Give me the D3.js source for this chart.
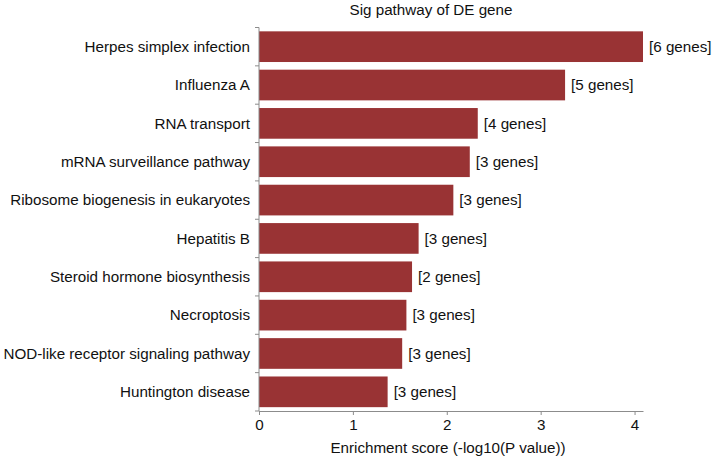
<!DOCTYPE html>
<html>
<head>
<meta charset="utf-8">
<script src="https://cdn.jsdelivr.net/npm/d3@7"></script>
<style>
  html, body { margin: 0; padding: 0; background: #fff; }
  text { font-family: "Liberation Sans", Arial, sans-serif; }
</style>
</head>
<body>
<svg id="chart" width="714" height="458"></svg>
<script>
const pathways = [
  "Herpes simplex infection",
  "Influenza A",
  "RNA transport",
  "mRNA surveillance pathway",
  "Ribosome biogenesis in eukaryotes",
  "Hepatitis B",
  "Steroid hormone biosynthesis",
  "Necroptosis",
  "NOD-like receptor signaling pathway",
  "Huntington disease"
];
const scores = [4.09, 3.26, 2.33, 2.245, 2.07, 1.70, 1.63, 1.57, 1.525, 1.37];
const geneCounts = [6, 5, 4, 3, 3, 3, 2, 3, 3, 3];
const xTicks = [0, 1, 2, 3, 4];
const titleText = "Sig pathway of DE gene";
const xAxisTitle = "Enrichment score (-log10(P value))";

const svg = d3.select("#chart");
const plotLeft = 259, plotRight = 643, plotTop = 27.5, plotBottom = 411;
const fs = 15.2;

const x = d3.scaleLinear().domain([0, d3.max(scores)]).range([plotLeft, plotRight]);
const y = d3.scaleBand().domain(pathways).range([plotTop, plotBottom]).paddingInner(0.2).paddingOuter(0.1);

const axisColor = "#8c8c8c";
const textColor = "#111111";
const barColor = "#993334";

// bars
svg.append("g").selectAll("rect")
  .data(pathways)
  .join("rect")
  .attr("x", x(0))
  .attr("y", d => y(d))
  .attr("width", (d, i) => x(scores[i]) - x(0))
  .attr("height", y.bandwidth())
  .attr("fill", barColor);

// gene count labels
svg.append("g").selectAll("text")
  .data(pathways)
  .join("text")
  .attr("x", (d, i) => x(scores[i]) + 6)
  .attr("y", d => y(d) + y.bandwidth() / 2)
  .attr("dy", "0.35em")
  .attr("font-size", fs)
  .attr("fill", textColor)
  .text((d, i) => `[${geneCounts[i]} genes]`);

// x axis
const xAxis = svg.append("g")
  .attr("transform", `translate(0,${plotBottom})`)
  .call(d3.axisBottom(x).tickValues(xTicks).tickFormat(d3.format("d")).tickSize(4).tickSizeOuter(0).tickPadding(4));
xAxis.select(".domain").attr("stroke", axisColor);
xAxis.selectAll(".tick line").attr("stroke", axisColor);
xAxis.selectAll(".tick text").attr("font-size", fs).attr("fill", textColor)
  .attr("font-family", "'Liberation Sans', Arial, sans-serif");

// y axis: ticks at band boundaries
const boundaries = pathways.map(p => y(p) - y.step() * y.paddingInner() / 2);
boundaries.push(plotBottom);
const yAxisG = svg.append("g");
yAxisG.append("line")
  .attr("x1", plotLeft).attr("x2", plotLeft)
  .attr("y1", plotTop).attr("y2", plotBottom)
  .attr("stroke", axisColor);
yAxisG.selectAll("line.tk")
  .data(boundaries)
  .join("line")
  .attr("class", "tk")
  .attr("x1", plotLeft - 4).attr("x2", plotLeft)
  .attr("y1", d => d).attr("y2", d => d)
  .attr("stroke", axisColor);
yAxisG.selectAll("text")
  .data(pathways)
  .join("text")
  .attr("x", plotLeft - 9)
  .attr("y", d => y(d) + y.bandwidth() / 2)
  .attr("dy", "0.35em")
  .attr("text-anchor", "end")
  .attr("font-size", fs)
  .attr("fill", textColor)
  .text(d => d);

// title
svg.append("text")
  .attr("x", 431)
  .attr("y", 14.5)
  .attr("text-anchor", "middle")
  .attr("font-size", fs)
  .attr("fill", textColor)
  .text(titleText);

// x axis title
svg.append("text")
  .attr("x", 448)
  .attr("y", 453)
  .attr("text-anchor", "middle")
  .attr("font-size", fs)
  .attr("fill", textColor)
  .text(xAxisTitle);
</script>
</body>
</html>
